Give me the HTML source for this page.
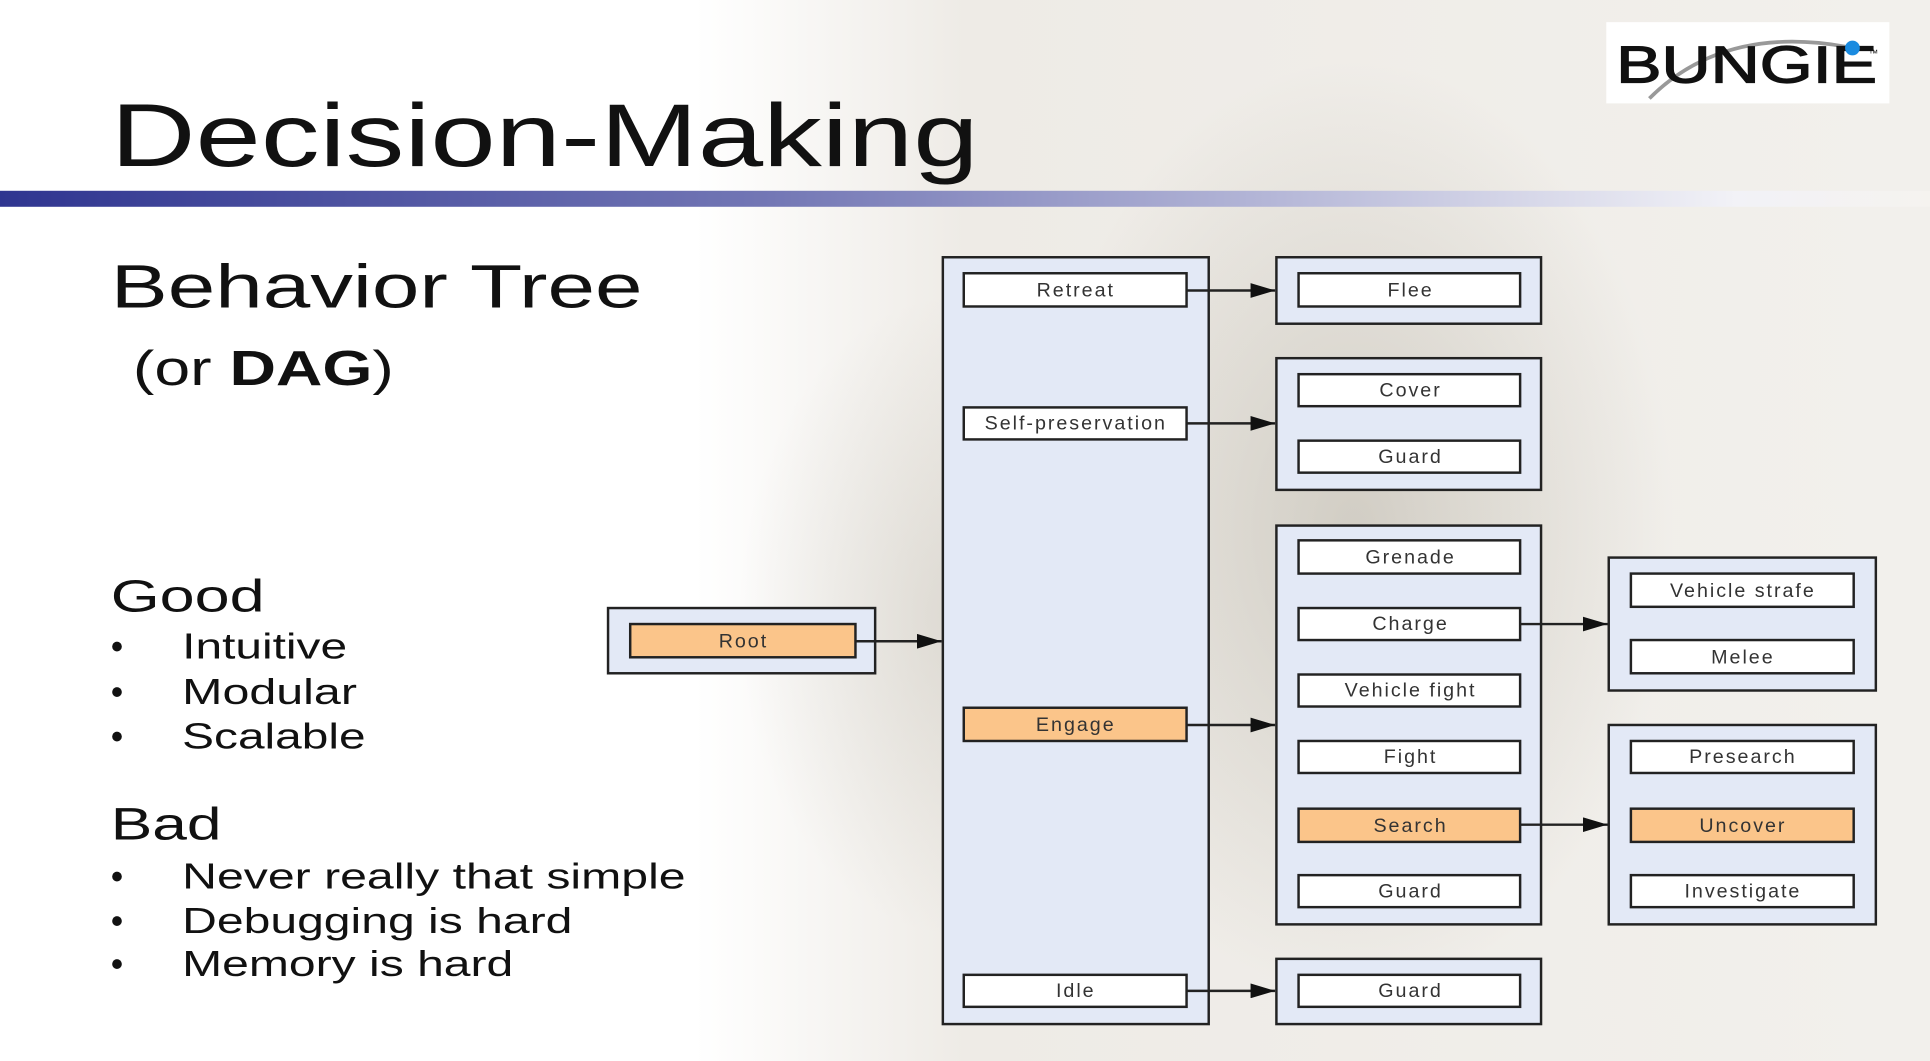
<!DOCTYPE html>
<html><head><meta charset="utf-8"><style>
html,body{margin:0;padding:0;background:#fff;}
svg{display:block;}
text{font-family:"Liberation Sans",Arial,sans-serif;}
</style></head><body>
<svg width="1930" height="1061" viewBox="0 0 1568 862" preserveAspectRatio="none" xmlns="http://www.w3.org/2000/svg">
<defs>
<linearGradient id="bg" x1="0" y1="0" x2="1" y2="0">
<stop offset="0" stop-color="#ffffff"/><stop offset="0.36" stop-color="#ffffff"/>
<stop offset="0.5" stop-color="#eeebe6"/><stop offset="1" stop-color="#f2f0ec"/></linearGradient>
<linearGradient id="bar" x1="0" y1="0" x2="1" y2="0">
<stop offset="0" stop-color="#2f3590"/><stop offset="0.4" stop-color="#7377b5"/><stop offset="0.9" stop-color="#f2f2f7"/><stop offset="1" stop-color="#f5f3ef"/></linearGradient>
<radialGradient id="blob" cx="0.5" cy="0.5" r="0.5"><stop offset="0" stop-color="#bdb8ac" stop-opacity="0.6"/><stop offset="1" stop-color="#bdb8ac" stop-opacity="0"/></radialGradient>
<marker id="ah" markerWidth="20" markerHeight="12" refX="20" refY="6" orient="auto" markerUnits="userSpaceOnUse"><path d="M0,0 L20,6 L0,12 z" fill="#111"/></marker>
</defs>
<rect width="1568" height="862" fill="url(#bg)"/>
<ellipse cx="1100" cy="430" rx="260" ry="380" fill="url(#blob)"/>
<ellipse cx="780" cy="500" rx="180" ry="260" fill="url(#blob)" opacity="0.6"/>
<rect x="1305" y="18" width="230" height="66" fill="#fff"/>
<path d="M1340,80 Q1400,20 1500,38" stroke="#999" stroke-width="3" fill="none"/>
<text x="1313" y="67" font-size="42" fill="#111" stroke="#111" stroke-width="1" textLength="212" lengthAdjust="spacingAndGlyphs">BUNGIE</text>
<text x="1518" y="46" font-size="8" fill="#111">™</text>
<circle cx="1505" cy="39" r="6" fill="#1a8be0"/>
<text x="90" y="135" font-size="72" fill="#111" textLength="705" lengthAdjust="spacingAndGlyphs">Decision-Making</text>
<rect x="0" y="155" width="1568" height="13" fill="url(#bar)"/>
<text x="90" y="250" font-size="50" fill="#111" textLength="432" lengthAdjust="spacingAndGlyphs">Behavior Tree</text>
<text x="108" y="313" font-size="40" fill="#111" textLength="212" lengthAdjust="spacingAndGlyphs">(or <tspan font-weight="bold">DAG</tspan>)</text>
<g font-size="37" fill="#111"><text x="90" y="497" textLength="125" lengthAdjust="spacingAndGlyphs">Good</text><text x="90" y="682" textLength="90" lengthAdjust="spacingAndGlyphs">Bad</text></g>
<g font-size="29" fill="#111">
<text x="90" y="535">•</text><text x="148" y="535" textLength="134" lengthAdjust="spacingAndGlyphs">Intuitive</text>
<text x="90" y="572">•</text><text x="148" y="572" textLength="142" lengthAdjust="spacingAndGlyphs">Modular</text>
<text x="90" y="608">•</text><text x="148" y="608" textLength="149" lengthAdjust="spacingAndGlyphs">Scalable</text>
<text x="90" y="722">•</text><text x="148" y="722" textLength="409" lengthAdjust="spacingAndGlyphs">Never really that simple</text>
<text x="90" y="758">•</text><text x="148" y="758" textLength="317" lengthAdjust="spacingAndGlyphs">Debugging is hard</text>
<text x="90" y="793">•</text><text x="148" y="793" textLength="269" lengthAdjust="spacingAndGlyphs">Memory is hard</text>
</g>
<g stroke="#222" stroke-width="2" fill="#e3e9f6">
<rect x="494" y="494" width="217" height="53"/>
<rect x="766" y="209" width="216" height="623"/>
<rect x="1037" y="209" width="215" height="54"/>
<rect x="1037" y="291" width="215" height="107"/>
<rect x="1037" y="427" width="215" height="324"/>
<rect x="1037" y="779" width="215" height="53"/>
<rect x="1307" y="453" width="217" height="108"/>
<rect x="1307" y="589" width="217" height="162"/>
</g>
<g stroke="#222" stroke-width="2" fill="#fff">
<rect x="512" y="507" width="183" height="27" fill="#fbc58a"/>
<rect x="783" y="222" width="181" height="27"/>
<rect x="783" y="331" width="181" height="26"/>
<rect x="783" y="575" width="181" height="27" fill="#fbc58a"/>
<rect x="783" y="792" width="181" height="26"/>
<rect x="1055" y="222" width="180" height="27"/>
<rect x="1055" y="304" width="180" height="26"/>
<rect x="1055" y="358" width="180" height="26"/>
<rect x="1055" y="439" width="180" height="27"/>
<rect x="1055" y="494" width="180" height="26"/>
<rect x="1055" y="548" width="180" height="26"/>
<rect x="1055" y="602" width="180" height="26"/>
<rect x="1055" y="657" width="180" height="27" fill="#fbc58a"/>
<rect x="1055" y="711" width="180" height="26"/>
<rect x="1055" y="792" width="180" height="26"/>
<rect x="1325" y="466" width="181" height="27"/>
<rect x="1325" y="520" width="181" height="27"/>
<rect x="1325" y="602" width="181" height="26"/>
<rect x="1325" y="657" width="181" height="27" fill="#fbc58a"/>
<rect x="1325" y="711" width="181" height="26"/>
</g>
<g stroke="#222" stroke-width="2" marker-end="url(#ah)">
<line x1="695" y1="521" x2="765" y2="521"/>
<line x1="964" y1="236" x2="1036" y2="236"/>
<line x1="964" y1="344" x2="1036" y2="344"/>
<line x1="964" y1="589" x2="1036" y2="589"/>
<line x1="964" y1="805" x2="1036" y2="805"/>
<line x1="1235" y1="507" x2="1306" y2="507"/>
<line x1="1235" y1="670" x2="1306" y2="670"/>
</g>
<g font-size="16" fill="#333" text-anchor="middle" letter-spacing="1.6">
<text x="874" y="241">Retreat</text>
<text x="874" y="349">Self-preservation</text>
<text x="874" y="594">Engage</text>
<text x="874" y="810">Idle</text>
<text x="604" y="526">Root</text>
<text x="1146" y="241">Flee</text>
<text x="1146" y="322">Cover</text>
<text x="1146" y="376">Guard</text>
<text x="1146" y="458">Grenade</text>
<text x="1146" y="512">Charge</text>
<text x="1146" y="566">Vehicle fight</text>
<text x="1146" y="620">Fight</text>
<text x="1146" y="676">Search</text>
<text x="1146" y="729">Guard</text>
<text x="1146" y="810">Guard</text>
<text x="1416" y="485">Vehicle strafe</text>
<text x="1416" y="539">Melee</text>
<text x="1416" y="620">Presearch</text>
<text x="1416" y="676">Uncover</text>
<text x="1416" y="729">Investigate</text>
</g>
</svg>
</body></html>
